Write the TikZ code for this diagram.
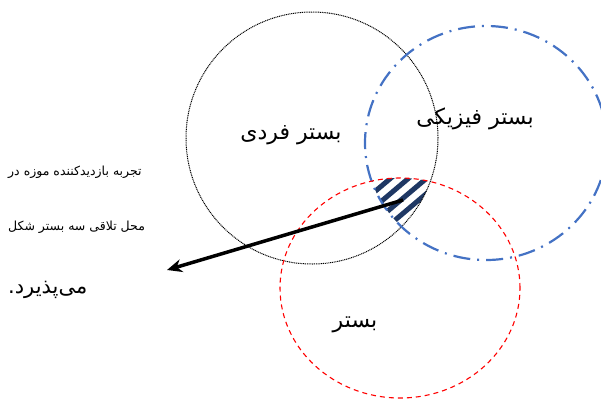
\documentclass[tikz,border=0pt]{standalone}
\usepackage{fontspec}
\usetikzlibrary{arrows.meta}
\TeXXeTstate=1
\newfontfamily\arabicfont[Script=Arabic]{DejaVu Sans}
\definecolor{hatchblue}{HTML}{1F3864}
\definecolor{ringblue}{HTML}{4472C4}
\tikzset{
  dotring/.style={black, line width=1pt, dash pattern=on 1pt off 0.8pt},
  bluering/.style={ringblue, line width=2.2pt, dash pattern=on 17pt off 7pt on 2pt off 7pt},
  redring/.style={red, line width=1.1pt, dash pattern=on 5pt off 4pt},
  hatch/.style={hatchblue, line width=5pt},
  label/.style={font=\arabicfont\fontsize{22}{26}\selectfont, inner sep=0pt},
  small/.style={font=\arabicfont\fontsize{12.5}{15}\selectfont, inner sep=0pt, anchor=west},
  bigside/.style={font=\arabicfont\fontsize{21}{25}\selectfont, inner sep=0pt, anchor=west},
  pointer/.style={black, line width=3.5pt, -{Stealth[length=15pt,width=13pt]}}
}
\begin{document}
\begin{tikzpicture}[x=1pt,y=-1pt]
\useasboundingbox (0,0) rectangle (601,399);
% hatched triple intersection
\begin{scope}
\clip (400,288) ellipse [x radius=120pt, y radius=110pt];
\clip (312,138) circle [radius=126pt];
\clip (486,143) ellipse [x radius=121pt, y radius=117pt];
\foreach \x in {367,385,403,421,439}{
  \draw[hatch] (\x-45,183+38) -- (\x+45,183-38);
}
\end{scope}
% rings
\draw[dotring] (312,138) circle [radius=126pt];
\draw[bluering] (486,143) ellipse [x radius=121pt, y radius=117pt];
\draw[redring] (400,288) ellipse [x radius=120pt, y radius=110pt];
% labels
\node[label] (fardi) at (291,135) {\beginR بستر فردی\endR};
\node[label] (fiziki) at (475,119) {\beginR بستر فیزیکی\endR};
\node[label] (bastar) at (355,325) {\beginR بستر\endR};
\node[small] (l1) at (8,172) {\beginR تجربه بازدیدکننده موزه در\endR};
\node[small] (l2) at (8,227) {\beginR محل تلاقی سه بستر شکل\endR};
\node[bigside] (l3) at (8,290) {\beginR می‌پذیرد.\endR};
% arrow
\coordinate (from) at (403,200);
\coordinate (to) at (167,270);
\draw[pointer] (from) -- (to);
\end{tikzpicture}
\end{document}
